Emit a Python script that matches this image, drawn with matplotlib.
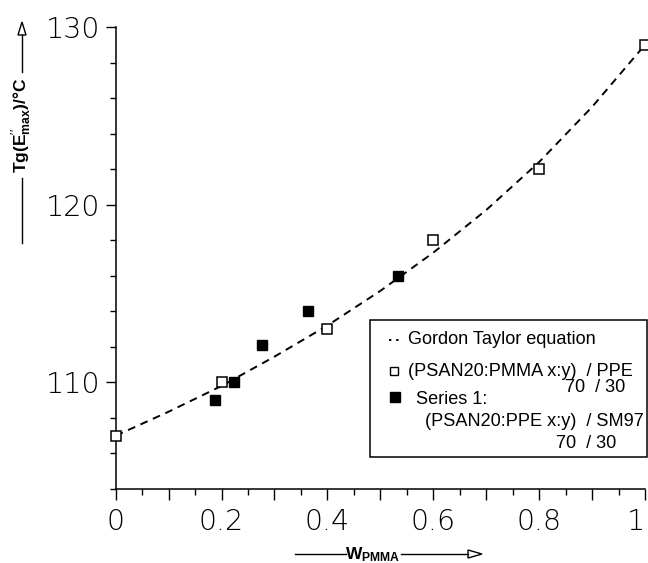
import matplotlib
matplotlib.use("Agg")
import matplotlib.pyplot as plt
from matplotlib import font_manager as fm
from matplotlib.lines import Line2D
from matplotlib.patches import Polygon, Rectangle
from matplotlib.ticker import FixedLocator, MultipleLocator

# ---------------- data ----------------
open_x = [0.0, 0.2, 0.4, 0.6, 0.8, 1.0]
open_y = [107.0, 110.0, 113.0, 118.0, 122.0, 129.0]
filled_x = [0.188, 0.224, 0.277, 0.364, 0.533]
filled_y = [109.0, 110.0, 112.1, 114.0, 116.0]
# Gordon-Taylor curve
gt_x = [0.0, 0.1, 0.2, 0.3, 0.4, 0.5, 0.6, 0.7, 0.8, 0.9, 1.0]
gt_y = [107.0, 108.35, 109.8, 111.45, 113.2, 115.15, 117.3, 119.7, 122.4, 125.5, 129.0]
xtick_vals = [0.0, 0.2, 0.4, 0.6, 0.8, 1.0]
xtick_labels = ["0", "0.2", "0.4", "0.6", "0.8", "1"]
ytick_vals = [110, 120, 130]
ytick_labels = ["110", "120", "130"]

W, H = 648, 563
plt.rcParams['font.family'] = ['Liberation Sans', 'DejaVu Sans']
plt.rcParams['mathtext.fontset'] = 'custom'
plt.rcParams['mathtext.rm'] = 'Liberation Sans'
plt.rcParams['mathtext.it'] = 'Liberation Sans:italic'
plt.rcParams['mathtext.bf'] = 'Liberation Sans:bold'


def pick_light():
    for fam in ['DejaVu Sans', 'Lato', 'Roboto', 'Open Sans', 'Inter', 'Noto Sans']:
        best = None
        for f in fm.fontManager.ttflist:
            if f.name != fam or f.style != 'normal':
                continue
            w = f.weight
            if isinstance(w, str):
                w = {'ultralight': 200, 'extra light': 200, 'light': 300, 'thin': 100}.get(w.lower(), 400)
            if w <= 300 and (best is None or w > best[0]):
                best = (w, f.fname)
        if best:
            return best[1]
    return None


light_path = pick_light()
if light_path:
    tick_fp = fm.FontProperties(fname=light_path, size=20.5)
else:
    tick_fp = fm.FontProperties(family='DejaVu Sans', size=20.5)

fig = plt.figure(figsize=(W / 100, H / 100), dpi=100)
L, R, T, B = 115.7, 645.0, 27.0, 489.0
ax = fig.add_axes([L / W, 1 - B / H, (R - L) / W, (B - T) / H])
ax.set_xlim(0, 1)
ax.set_ylim(104, 130)

for s in ['top', 'right']:
    ax.spines[s].set_visible(False)
for s in ['left', 'bottom']:
    ax.spines[s].set_linewidth(1.1)
    ax.spines[s].set_color('black')

major_x = [i / 10 for i in range(11)]
ax.xaxis.set_major_locator(FixedLocator(major_x))
xl = ax.set_xticklabels([xtick_labels[xtick_vals.index(round(v, 1))] if round(v, 1) in xtick_vals else ""
                         for v in major_x], fontproperties=tick_fp)
xl[-1].set_horizontalalignment('right')
ax.xaxis.set_minor_locator(FixedLocator([0.05 + i / 10 for i in range(10)]))
ax.yaxis.set_major_locator(FixedLocator(ytick_vals))
ax.set_yticklabels(ytick_labels, fontproperties=tick_fp)
ax.yaxis.set_minor_locator(MultipleLocator(2))
ax.tick_params(axis='x', which='major', direction='out', length=8, width=1.0, pad=5.5)
ax.tick_params(axis='x', which='minor', direction='out', length=4, width=1.0)
ax.tick_params(axis='y', which='major', direction='out', length=7.5, width=1.0, pad=3.5)
ax.tick_params(axis='y', which='minor', direction='out', length=4, width=1.0)

# curve and points
ax.plot(gt_x, gt_y, color='black', lw=1.4, dashes=(4, 3), clip_on=False, zorder=2)
ax.plot(open_x, open_y, linestyle='none', marker='s', ms=7.3, mfc='white', mec='black', mew=1.1,
        clip_on=False, zorder=3)
ax.plot(filled_x, filled_y, linestyle='none', marker='s', ms=7.3, mfc='black', mec='black', mew=1.0,
        clip_on=False, zorder=3)


def fx(px):
    return px / W


def fy(py):
    return 1 - py / H


def fline(x0, y0, x1, y1, lw=1.0):
    fig.add_artist(Line2D([fx(x0), fx(x1)], [fy(y0), fy(y1)], transform=fig.transFigure,
                          color='black', lw=lw))


def ftri(pts):
    fig.add_artist(Polygon([(fx(a), fy(b)) for a, b in pts], closed=True, transform=fig.transFigure,
                           facecolor='white', edgecolor='black', lw=1.0))


lab_size = 12.5
# x label
fline(295, 554, 346, 554)
fig.text(fx(373), fy(555), r'W$_{\mathbf{PMMA}}$', ha='center', va='center', fontsize=lab_size,
         fontweight='bold')
fline(401, 554, 468, 554)
ftri([(468, 550), (482, 554), (468, 558)])

# y label
fline(22, 243, 22, 178)
fig.text(fx(22), fy(125), r"Tg(E$^{\prime\prime}_{\mathbf{max}}$)/°C", rotation=90, ha='center',
         va='center', fontsize=lab_size, fontweight='bold')
fline(22, 72, 22, 35)
ftri([(18, 35), (22, 22), (26, 35)])

# legend box
fig.add_artist(Rectangle((fx(370), fy(457)), (647 - 370) / W, (457 - 320) / H, transform=fig.transFigure,
                         facecolor='white', edgecolor='black', lw=1.1, zorder=5))
leg_fs = 13.1
z = 6
fig.add_artist(Line2D([fx(389), fx(400)], [fy(340), fy(340)], transform=fig.transFigure, color='black',
                      lw=1.4, dashes=(1.2, 2.5), zorder=z))
fig.text(fx(408), fy(340), 'Gordon Taylor equation', ha='left', va='center', fontsize=leg_fs, zorder=z)
fig.add_artist(Line2D([fx(394)], [fy(371)], transform=fig.transFigure, marker='s', ms=5.2,
                      mfc='white', mec='black', mew=1.0, ls='none', zorder=z))
fig.text(fx(408), fy(371), '(PSAN20:PMMA x:y)  / PPE', ha='left', va='center', fontsize=leg_fs, zorder=z)
fig.text(fx(625), fy(388), '70  / 30', ha='right', va='center', fontsize=leg_fs, zorder=z)
fig.add_artist(Line2D([fx(395)], [fy(397)], transform=fig.transFigure, marker='s', ms=6.8,
                      mfc='black', mec='black', mew=1.0, ls='none', zorder=z))
fig.text(fx(416), fy(399), 'Series 1:', ha='left', va='center', fontsize=leg_fs, zorder=z)
fig.text(fx(425), fy(421), '(PSAN20:PPE x:y)  / SM97', ha='left', va='center', fontsize=leg_fs, zorder=z)
fig.text(fx(616), fy(443), '70  / 30', ha='right', va='center', fontsize=leg_fs, zorder=z)

fig.savefig('out.png', dpi=100)
